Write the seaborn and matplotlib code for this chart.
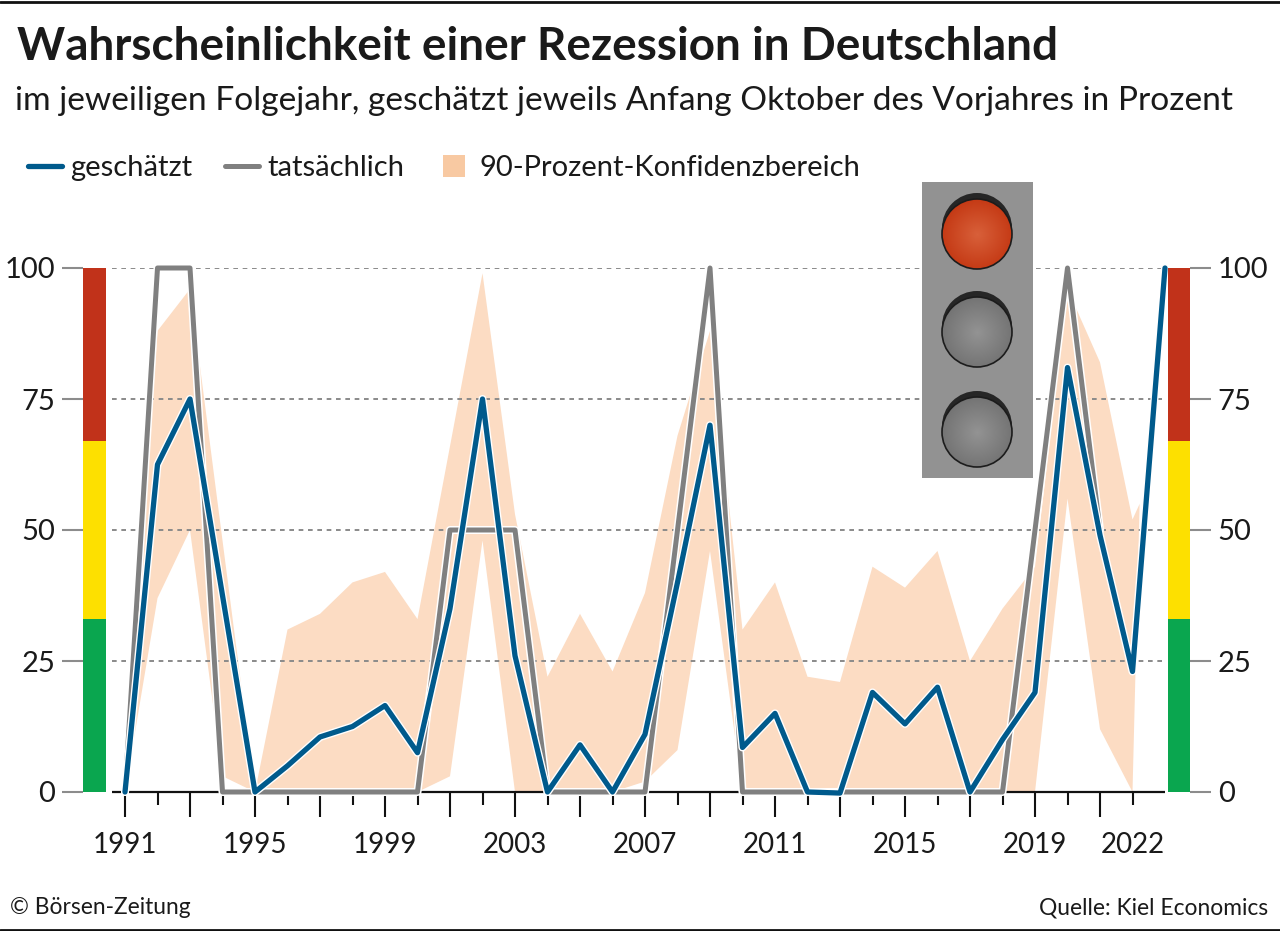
import numpy as np
import pandas as pd
import matplotlib
matplotlib.use("Agg")
import matplotlib.pyplot as plt
import matplotlib.patheffects as pe
from matplotlib.lines import Line2D
from matplotlib.patches import Circle, Rectangle
import seaborn as sns

title = "Wahrscheinlichkeit einer Rezession in Deutschland"
subtitle = "im jeweiligen Folgejahr, geschätzt jeweils Anfang Oktober des Vorjahres in Prozent"
source_left = "© Börsen-Zeitung"
source_right = "Quelle: Kiel Economics"
legend_labels = ["geschätzt", "tatsächlich", "90-Prozent-Konfidenzbereich"]

years = list(range(1991, 2024))
estimated = [0, 62.5, 75, 37.5, 0, 5, 10.5, 12.5, 16.5, 7.5, 35, 75, 26, 0, 9, 0, 11, 40, 70,
             8.5, 15, 0, -0.2, 19, 13, 20, 0, 10, 19, 81, 49, 23, 100]
actual_years = list(range(1991, 2022))
actual = [0, 100, 100, 0, 0, 0, 0, 0, 0, 0, 50, 50, 50, 0, 0, 0, 0, 50, 100,
          0, 0, 0, 0, 0, 0, 0, 0, 0, 50, 100, 50]
band_upper_years = list(range(1991, 2023)) + [2022.22]
band_upper = [0, 88, 96, 48, 0, 31, 34, 40, 42, 33, 66, 99, 53, 22, 34, 23, 38, 68, 88,
              31, 40, 22, 21, 43, 39, 46, 25, 35, 43, 96, 82, 52, 55]
band_lower_years = list(range(1991, 2023))
band_lower = [0, 37, 50, 3, 0, 0, 0, 0, 0, 0, 3, 48, 0, 0, 0, 0, 2, 8, 46,
              0, 0, 0, 0, 0, 0, 0, 0, 0, 0, 56, 12, 0]
tick_years = list(range(1991, 2023))
labelled_years = [1991, 1995, 1999, 2003, 2007, 2011, 2015, 2019, 2022]
y_ticks = [0, 25, 50, 75, 100]
zone_edges = [0, 33, 67, 100]
zone_colors = ["#0aa64f", "#fde000", "#c1321a"]

BLUE = "#005a8c"
GRAY = "#808080"
PEACH = "#fcdcc3"
TEXT = "#1a1a1a"

W, H = 1280, 931
sns.set_theme(style="white")
plt.rcParams["font.family"] = ["Lato", "DejaVu Sans"]
fig = plt.figure(figsize=(W / 100, H / 100), dpi=100, facecolor="white")

L, R, T, B = 83, 1190, 268, 792
ax = fig.add_axes([L / W, 1 - B / H, (R - L) / W, (B - T) / H])
x0, dx = 125, 32.5
ax.set_xlim(1991 + (L - x0) / dx, 1991 + (R - x0) / dx)
ax.set_ylim(0, 100)
sns.despine(ax=ax, left=True, right=True, top=True, bottom=True)

# confidence band
ax.fill(band_upper_years + band_lower_years[::-1], band_upper + band_lower[::-1],
        color=PEACH, lw=0, zorder=1, clip_on=False)

# grid and baseline
ax.hlines(y_ticks[1:], 1991 + (112 - x0) / dx, 2023, colors="#8a8a8a", lw=1.4,
          linestyles=(0, (2.4, 2.4)), zorder=2)
ax.hlines([0], 1991 + (112 - x0) / dx, 2023, colors="#111111", lw=1.6, zorder=2, clip_on=False)

halo = [pe.Stroke(linewidth=5.8, foreground="white"), pe.Normal()]
sns.lineplot(x=actual_years, y=actual, ax=ax, color=GRAY, lw=3.6, errorbar=None, estimator=None,
             sort=False, zorder=3, clip_on=False, path_effects=halo, solid_joinstyle="round")
halo2 = [pe.Stroke(linewidth=5.8, foreground="white"), pe.Normal()]
sns.lineplot(x=years, y=estimated, ax=ax, color=BLUE, lw=3.8, errorbar=None, estimator=None,
             sort=False, zorder=4, clip_on=False, path_effects=halo2, solid_joinstyle="round")

# traffic-light zones at both sides
trans = ax.get_yaxis_transform()
for lo, hi, c in zip(zone_edges[:-1], zone_edges[1:], zone_colors):
    for xa, xb in [(83, 106), (1168, 1190)]:
        ax.add_patch(Rectangle(((xa - L) / (R - L), lo), (xb - xa) / (R - L), hi - lo,
                               transform=trans, color=c, lw=0, zorder=5, clip_on=False))

# ticks
ax.set_yticks(y_ticks)
ax.set_yticklabels([str(v) for v in y_ticks])
ax.tick_params(axis="y", left=True, right=True, labelleft=True, labelright=True, length=15,
               width=1.5, color="#8c8c8c", labelsize=21, pad=5, labelcolor=TEXT)
ax.set_xticks(tick_years)
ax.set_xticklabels([str(y) if y in labelled_years else "" for y in tick_years])
ax.tick_params(axis="x", bottom=True, length=18, width=1.5, color="#111111", labelsize=20,
               pad=11, labelcolor=TEXT)
for y, tick in zip(tick_years, ax.xaxis.get_major_ticks()):
    if y % 2 == 0:
        tick.tick1line.set_markersize(9.5)
ax.grid(False)
ax.patch.set_alpha(0)

# traffic light
tl = fig.add_axes([922 / W, 1 - 478 / H, 111 / W, 296 / H], zorder=10)
tl.set_facecolor("#929292")
tl.set_xticks([])
tl.set_yticks([])
for s in tl.spines.values():
    s.set_visible(False)
yy, xx = np.mgrid[0:296, 0:111]
for cy, (inner, outer) in zip([52, 150, 250], [("#d8603a", "#c53a15"), ("#939393", "#747474"), ("#939393", "#747474")]):
    tl.add_patch(Circle((55, cy - 6), 35, color="#262626", lw=0, zorder=1))
    disc = Circle((55, cy), 35, facecolor="none", edgecolor="#1c1c1c", lw=1.2, zorder=3)
    tl.add_patch(disc)
    r = np.clip(np.hypot(xx - 55, yy - cy) / 35, 0, 1)[..., None]
    c0 = np.array(matplotlib.colors.to_rgb(inner))
    c1 = np.array(matplotlib.colors.to_rgb(outer))
    im = tl.imshow(c0 * (1 - r) + c1 * r, extent=(0, 111, 296, 0), zorder=2, interpolation="bilinear")
    im.set_clip_path(disc)
tl.set_xlim(0, 111)
tl.set_ylim(296, 0)
tl.set_aspect("auto")

# titles
fig.text(17 / W, 1 - 47 / H, title, fontsize=33, fontweight="bold", color=TEXT, va="center", ha="left")
fig.text(15 / W, 1 - 101 / H, subtitle, fontsize=24.1, color=TEXT, va="center", ha="left")
fig.text(10 / W, 1 - 908 / H, source_left, fontsize=16.4, color=TEXT, va="center", ha="left")
fig.text(1268 / W, 1 - 908 / H, source_right, fontsize=16.4, color=TEXT, va="center", ha="right")

handles = [Line2D([], [], color=BLUE, lw=3.8, solid_capstyle="round"),
           Line2D([], [], color=GRAY, lw=3.6, solid_capstyle="round"),
           Line2D([], [], color="#f8c9a2", marker="s", markersize=16.5, markeredgewidth=0, ls="none")]
leg = fig.legend(handles, legend_labels, ncol=3, frameon=False, fontsize=21,
                 loc="center left", bbox_to_anchor=(28 / W, 1 - 168 / H), borderaxespad=0,
                 borderpad=0, handlelength=1.17, handletextpad=0.28, columnspacing=1.12, labelcolor=TEXT)

fig.add_artist(Line2D([0, 1], [1.5 / H, 1.5 / H], color="#111111", lw=2))
fig.add_artist(Line2D([0, 1], [1 - 1.5 / H, 1 - 1.5 / H], color="#111111", lw=2))
fig.savefig("out.png", dpi=100, facecolor="white")
